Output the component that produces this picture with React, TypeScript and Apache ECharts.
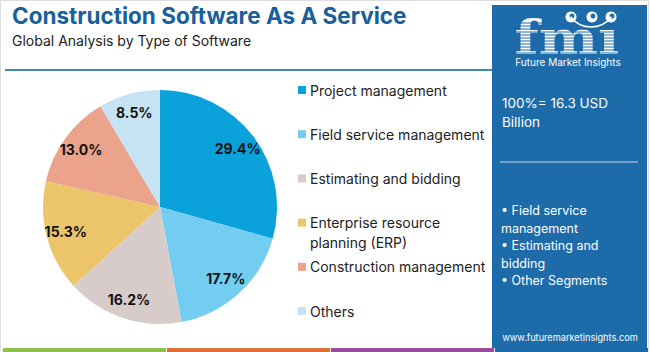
import React, { useEffect, useRef } from "react";
import * as echarts from "echarts";

const categories = [
  "Project management",
  "Field service management",
  "Estimating and bidding",
  "Enterprise resource planning (ERP)",
  "Construction management",
  "Others",
];
const legendLabels = [
  "Project management",
  "Field service management",
  "Estimating and bidding",
  "Enterprise resource\nplanning (ERP)",
  "Construction management",
  "Others",
];
const shares = [29.4, 17.7, 16.2, 15.3, 13.0, 8.5];
const sliceColors = ["#0ba2dc", "#72cdf1", "#d7ccc9", "#ecc56b", "#eba48b", "#c6e3f3"];
const titleText = "Construction Software As A Service";
const subtitleText = "Global Analysis by Type of Software";
const totalText = "100%= 16.3 USD\nBillion";
const bulletText = "• Field service\nmanagement\n• Estimating and\nbidding\n• Other Segments";
const siteText = "www.futuremarketinsights.com";
const stripColors = ["#8dc04d", "#e06f3a", "#9a4a9c", "#1c6aa8"];

const FONT = "Inter, 'Open Sans', sans-serif";
const PANEL = "#1d6ba9";

export default function App() {
  const ref = useRef<HTMLDivElement>(null);
  useEffect(() => {
    if (!ref.current) return;
    const chart = echarts.init(ref.current, undefined, { renderer: "svg" });

    const data = categories.map((name, i) => ({
      name,
      value: shares[i],
      itemStyle: { color: sliceColors[i] },
    }));

    const graphics: any[] = [];
    graphics.push({
      type: "rect",
      shape: { x: 0.5, y: 0.5, width: 648, height: 350 },
      style: { fill: "none", stroke: "#dedede", lineWidth: 1 },
    });
    graphics.push({
      type: "text",
      x: 12,
      y: 4,
      style: {
        text: titleText,
        fill: "#17609b",
        font: `bold 22.5px ${FONT}`,
        align: "left",
        verticalAlign: "top",
      },
    });
    graphics.push({
      type: "text",
      x: 12,
      y: 33,
      style: {
        text: subtitleText,
        fill: "#222",
        font: `14px ${FONT}`,
        align: "left",
        verticalAlign: "top",
      },
    });
    graphics.push({
      type: "line",
      shape: { x1: 5, y1: 70, x2: 492, y2: 70 },
      style: { stroke: "#3f89bf", lineWidth: 2 },
    });
    categories.forEach((_, i) => {
      const cy = 90 + i * 44.2;
      graphics.push({
        type: "rect",
        shape: { x: 298, y: cy - 4, width: 8, height: 8 },
        style: { fill: sliceColors[i] },
      });
      graphics.push({
        type: "text",
        x: 310,
        y: cy - 10,
        style: {
          text: legendLabels[i],
          fill: "#222",
          font: `14px ${FONT}`,
          lineHeight: 20,
          align: "left",
          verticalAlign: "top",
        },
      });
    });
    graphics.push({
      type: "rect",
      shape: { x: 492, y: 5, width: 155, height: 343 },
      style: { fill: PANEL },
    });
    graphics.push({
      type: "text",
      x: 567,
      y: 38,
      scaleX: 1.22,
      style: {
        text: "fmı",
        fill: "#ffffff",
        font: `bold 46px 'DejaVu Serif', serif`,
        align: "center",
        verticalAlign: "middle",
      },
    });
    for (let y = 23; y <= 54; y += 3) {
      graphics.push({
        type: "line",
        shape: { x1: 508, y1: y, x2: 628, y2: y },
        style: { stroke: PANEL, lineWidth: 1 },
      });
    }
    [571, 592, 611].forEach((cx) => {
      graphics.push({
        type: "circle",
        shape: { cx, cy: 17, r: 5.5 },
        style: { fill: "#ffffff" },
      });
      graphics.push({
        type: "circle",
        shape: { cx: cx + 1, cy: 16, r: 2.5 },
        style: { fill: PANEL },
      });
    });
    graphics.push({
      type: "arc",
      shape: { cx: 591, cy: 2, r: 25, startAngle: Math.PI * 0.2, endAngle: Math.PI * 0.8 },
      style: { stroke: "#ffffff", lineWidth: 1.5, fill: "none" },
    });
    graphics.push({
      type: "text",
      x: 568,
      y: 62,
      style: {
        text: "Future Market Insights",
        fill: "#ffffff",
        font: `10px ${FONT}`,
        align: "center",
        verticalAlign: "middle",
      },
    });
    graphics.push({
      type: "text",
      x: 502,
      y: 93,
      style: {
        text: totalText,
        fill: "#ffffff",
        font: `13.5px ${FONT}`,
        lineHeight: 19,
        align: "left",
        verticalAlign: "top",
      },
    });
    graphics.push({
      type: "line",
      shape: { x1: 500, y1: 162, x2: 638, y2: 162 },
      style: { stroke: "rgba(255,255,255,0.75)", lineWidth: 1 },
    });
    graphics.push({
      type: "text",
      x: 501,
      y: 202,
      style: {
        text: bulletText,
        fill: "#ffffff",
        font: `12.5px ${FONT}`,
        lineHeight: 17.5,
        align: "left",
        verticalAlign: "top",
      },
    });
    graphics.push({
      type: "text",
      x: 570,
      y: 337,
      style: {
        text: siteText,
        fill: "#ffffff",
        font: `9.2px ${FONT}`,
        align: "center",
        verticalAlign: "middle",
      },
    });
    const segW = 163;
    stripColors.forEach((c, i) => {
      graphics.push({
        type: "rect",
        shape: { x: 3 + i * (segW + 1), y: 348, width: i === 3 ? 153 : segW, height: 4 },
        style: { fill: c },
      });
    });

    chart.setOption({
      animation: false,
      backgroundColor: "#ffffff",
      series: [
        {
          type: "pie",
          center: [160, 207],
          radius: [0, 117],
          startAngle: 90,
          clockwise: true,
          silent: true,
          label: { show: false },
          labelLine: { show: false },
          data,
        },
        {
          type: "pie",
          center: [160, 207],
          radius: [72, 117],
          startAngle: 90,
          clockwise: true,
          silent: true,
          itemStyle: { color: "transparent" },
          label: {
            show: true,
            position: "inside",
            color: "#111",
            fontFamily: FONT,
            fontWeight: "bold",
            fontSize: 14,
            formatter: (p: any) => Number(p.value).toFixed(1) + "%",
          },
          labelLine: { show: false },
          data: categories.map((name, i) => ({ name, value: shares[i] })),
        },
      ],
      graphic: graphics,
    });
    return () => chart.dispose();
  }, []);
  return (
    <div
      ref={ref}
      style={{ position: "fixed", left: 0, top: 0, width: 650, height: 352 }}
    />
  );
}
